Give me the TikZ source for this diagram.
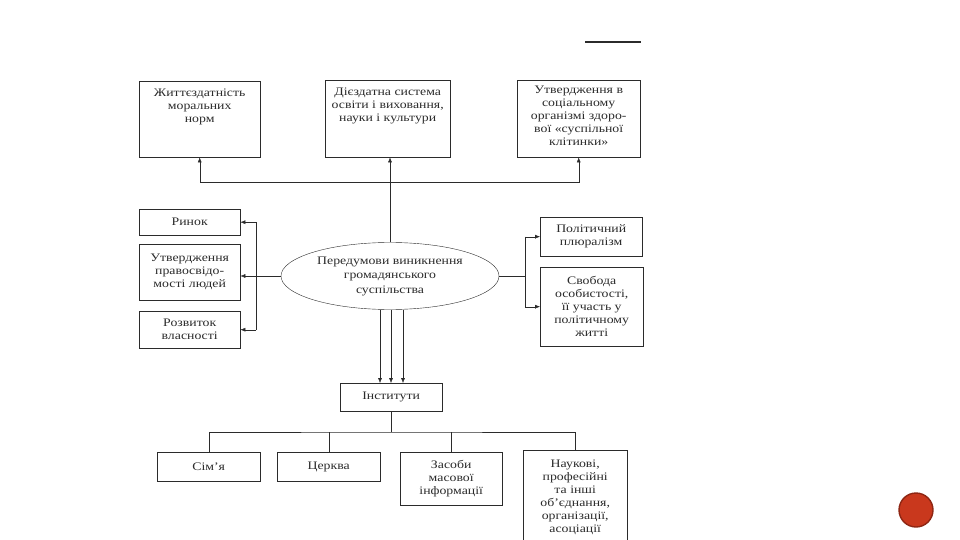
\documentclass[tikz,border=0pt]{standalone}
\usepackage{fontspec}
\setmainfont{Liberation Serif}[FakeStretch=1.2]
\usetikzlibrary{positioning, shapes.geometric, arrows.meta}
\definecolor{ink}{HTML}{2B2B2B}
\definecolor{badgered}{HTML}{C9381D}
\definecolor{badgerim}{HTML}{8E2613}

\begin{document}
\begin{tikzpicture}[x=1pt, y=-1pt, font=\fontsize{11.5}{13}\selectfont, text=ink,
    >={Latex[length=5pt, width=4pt]}]
  \tikzstyle{module}=[draw=ink, thin, inner sep=2, align=center, anchor=north west]
  \tikzstyle{toptext}=[anchor=north, align=center, inner sep=0, yshift=-8pt]
  \tikzstyle{link}=[draw=ink, thin]
  \tikzstyle{arr}=[link, ->]

  \useasboundingbox (0,0) rectangle (960,540);

  \draw [line width=1.6, ink] (585,42) -- (641,42);

  % top row
  \node [module, minimum width=121, minimum height=76,
    label={[toptext, name=zh-t]north:{Життєздатність\\моральних\\норм}}] (zh) at (139,81) {};
  \node [module, minimum width=125, minimum height=77,
    label={[toptext, name=osv-t]north:{Дієздатна система\\освіти і виховання,\\науки і культури}}] (osv) at (325,80) {};
  \node [module, minimum width=123, minimum height=77,
    label={[toptext, yshift=2pt, name=ut-t]north:{Утвердження в\\соціальному\\організмі здоро-\\вої «суспільної\\клітинки»}}] (ut) at (517,80) {};

  % left column
  \node [module, minimum width=101, minimum height=26] (rynok) at (139,209) {Ринок};
  \node [module, minimum width=101, minimum height=56] (prav) at (139,244) {Утвердження\\правосвідо-\\мості людей};
  \node [module, minimum width=101, minimum height=37] (vlas) at (139,311) {Розвиток\\власності};

  \node [draw=ink, thin, ellipse, minimum width=218, minimum height=67, inner sep=0, align=center,
    font=\fontsize{11.5}{14.5}\selectfont] (pered) at (390,276) {Передумови виникнення\\громадянського\\суспільства};

  % right column
  \node [module, minimum width=102, minimum height=39] (plur) at (540,217) {Політичний\\плюралізм};
  \node [module, minimum width=103, minimum height=79] (svob) at (540,267) {Свобода\\особистості,\\її участь у\\політичному\\житті};

  % institutions
  \node [module, minimum width=102, minimum height=28] (inst) at (340,383) {Інститути};
  \node [module, minimum width=103, minimum height=29] (sim) at (157,452) {Сім’я};
  \node [module, minimum width=103, minimum height=29] (cerk) at (277,452) {Церква};
  \node [module, minimum width=102, minimum height=53] (zmi) at (400,452) {Засоби\\масової\\інформації};
  \node [module, minimum width=104, minimum height=95] (nauk) at (523,450) {Наукові,\\професійні\\та інші\\об’єднання,\\організації,\\асоціації};

  \node [circle, fill=badgered, draw=badgerim, line width=1.4, minimum size=34] (badge) at (916,510) {};

  % upwards
  \coordinate (hub) at (390,182);
  \draw [arr] (pered.north) -- (pered.north |- osv.south);
  \draw [arr] (hub) -| (zh.south);
  \draw [arr] (hub) -| (ut.south);

  % left
  \coordinate (l-bus) at (256,0);
  \draw [arr] (pered.west) -- (pered.west -| prav.east);
  \draw [link] (l-bus |- rynok.east) -- (l-bus |- vlas.east);
  \draw [arr] (l-bus |- rynok.east) -- (rynok.east);
  \draw [arr] (l-bus |- vlas.east) -- (vlas.east);

  % right
  \coordinate (r-bus) at (525,0);
  \draw [link] (pered.east) -- (pered.east -| r-bus);
  \draw [link] (r-bus |- plur.west) -- (r-bus |- svob.west);
  \draw [arr] (r-bus |- plur.west) -- (plur.west);
  \draw [arr] (r-bus |- svob.west) -- (svob.west);

  % downwards
  \foreach \dx in {-10,1,13}
    \draw [arr] ([xshift=\dx pt]pered.south) -- ([xshift=\dx pt]pered.south |- inst.north);

  \coordinate (t-bus) at (391,432);
  \draw [link] (inst.south) -- (inst.south |- t-bus);
  \draw [link] (sim.north) |- (t-bus) -| (nauk.north);
  \draw [link] (cerk.north) -- (cerk.north |- t-bus);
  \draw [link] (zmi.north) -- (zmi.north |- t-bus);
\end{tikzpicture}
\end{document}
